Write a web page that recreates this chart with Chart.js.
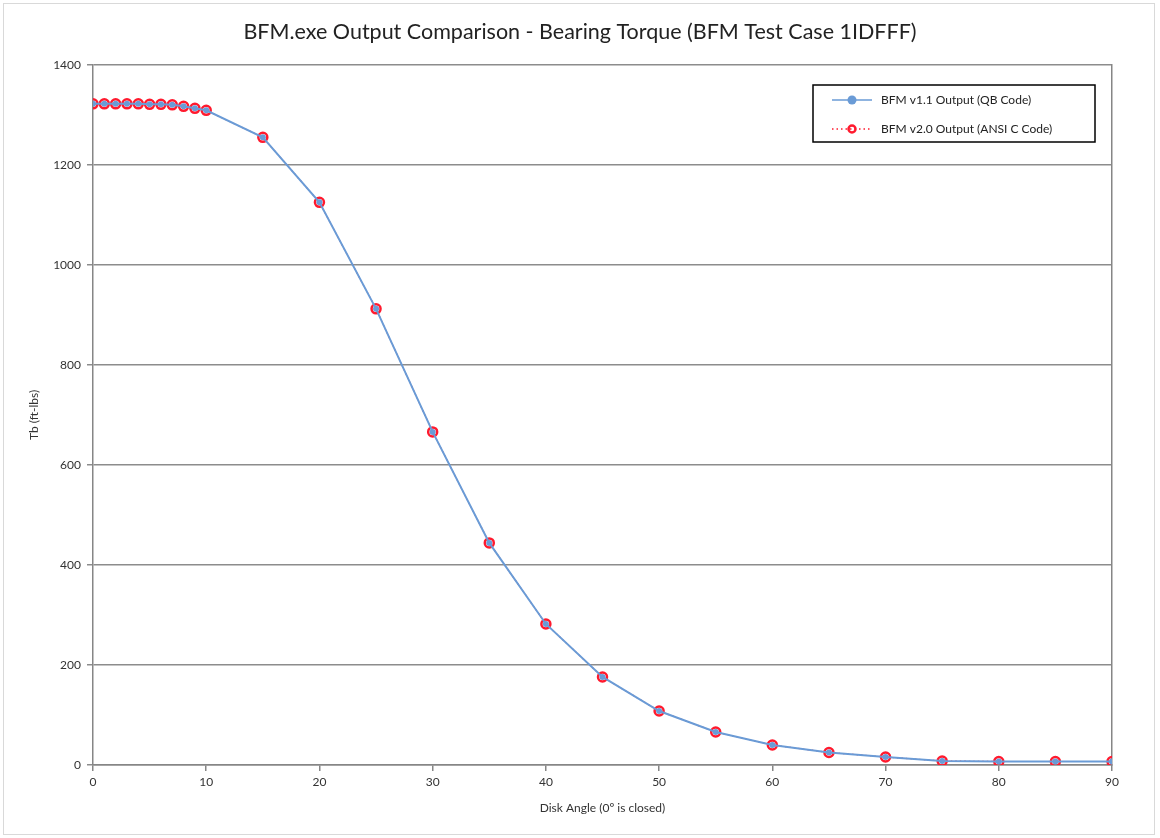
<!DOCTYPE html>
<html lang="en">
<head>
  <meta charset="UTF-8">
  <title>BFM.exe Output Comparison</title>
  <script src="https://cdn.jsdelivr.net/npm/chart.js"></script>
  <style>
    html, body { margin: 0; padding: 0; background: #fff; }
    .frame { position: absolute; left: 3px; top: 3px; width: 1150px; height: 830px; border: 1px solid #d9d9d9; }
    .wrap { position: absolute; left: 0; top: 0; width: 1160px; height: 838px; }
  </style>
</head>
<body>
  <div class="frame"></div>
  <div class="wrap"><canvas id="grafico" width="1160" height="838"></canvas></div>

  <script>
    // disk angle (deg) and bearing torque values
    const angulos = [0, 1, 2, 3, 4, 5, 6, 7, 8, 9, 10, 15, 20, 25, 30, 35, 40, 45, 50, 55, 60, 65, 70, 75, 80, 85, 90];
    const torqueQB = [1322, 1322, 1322, 1322, 1322, 1321, 1321, 1320, 1317, 1313, 1309, 1255, 1125, 912, 666, 444, 282, 176, 108, 66, 40, 25, 16, 8, 7, 7, 7];
    const torqueC  = [1322, 1322, 1322, 1322, 1322, 1321, 1321, 1320, 1317, 1313, 1309, 1255, 1125, 912, 666, 444, 282, 176, 108, 66, 40, 25, 16, 8, 7, 7, 7];
    const yTicks = [0, 200, 400, 600, 800, 1000, 1200, 1400];
    const xTicks = [0, 10, 20, 30, 40, 50, 60, 70, 80, 90];

    const fonte = 'Lato, "Liberation Sans", sans-serif';
    const azul = '#6a9bd6';
    const vermelho = '#ff1a2e';

    // legenda com caixa (como no Excel)
    const legendaPlugin = {
      id: 'legendaCaixa',
      afterDraw(chart) {
        const ctx = chart.ctx;
        ctx.save();
        const bx = 813, by = 85, bw = 282, bh = 57;
        ctx.strokeStyle = '#000';
        ctx.lineWidth = 1.5;
        ctx.strokeRect(bx, by, bw, bh);
        ctx.font = '12px ' + fonte;
        ctx.textBaseline = 'middle';
        const ds = chart.data.datasets;

        // entrada 1
        let y = 100;
        ctx.strokeStyle = azul;
        ctx.lineWidth = 1.5;
        ctx.beginPath(); ctx.moveTo(832, y); ctx.lineTo(872, y); ctx.stroke();
        ctx.fillStyle = azul;
        ctx.beginPath(); ctx.arc(852, y, 4.5, 0, Math.PI * 2); ctx.fill();
        ctx.fillStyle = '#222';
        ctx.fillText(ds[0].label, 881, y);

        // entrada 2
        y = 129;
        ctx.strokeStyle = vermelho;
        ctx.setLineDash([1.5, 3]);
        ctx.beginPath(); ctx.moveTo(832, y); ctx.lineTo(872, y); ctx.stroke();
        ctx.setLineDash([]);
        ctx.lineWidth = 2.5;
        ctx.beginPath(); ctx.arc(852, y, 3.5, 0, Math.PI * 2); ctx.stroke();
        ctx.fillStyle = '#222';
        ctx.fillText(ds[1].label, 881, y);
        ctx.restore();
      }
    };

    const ctx = document.getElementById('grafico').getContext('2d');
    new Chart(ctx, {
      type: 'line',
      data: {
        datasets: [{
          label: 'BFM v1.1 Output (QB Code)',
          data: angulos.map((a, i) => ({ x: a, y: torqueQB[i] })),
          borderColor: azul,
          backgroundColor: azul,
          borderWidth: 2,
          pointRadius: 3,
          pointBorderWidth: 0,
          tension: 0
        }, {
          label: 'BFM v2.0 Output (ANSI C Code)',
          data: angulos.map((a, i) => ({ x: a, y: torqueC[i] })),
          borderColor: vermelho,
          backgroundColor: 'rgba(0,0,0,0)',
          borderWidth: 1.2,
          borderDash: [1.5, 3],
          pointRadius: 4.5,
          pointBorderWidth: 2.5,
          pointBorderColor: vermelho,
          pointBackgroundColor: 'rgba(0,0,0,0)',
          tension: 0
        }]
      },
      options: {
        responsive: false,
        animation: false,
        layout: { padding: 0 },
        plugins: {
          legend: { display: false },
          tooltip: { enabled: false },
          title: {
            display: true,
            text: 'BFM.exe Output Comparison - Bearing Torque (BFM Test Case 1IDFFF)',
            color: '#222',
            font: { family: fonte, size: 21.5, weight: 'normal' },
            padding: { top: 19, bottom: 20 }
          }
        },
        scales: {
          x: {
            type: 'linear',
            min: 0,
            max: 90,
            afterBuildTicks: s => { s.ticks = xTicks.map(v => ({ value: v })); },
            afterFit: s => { s.height = 73; },
            grid: { display: true, drawOnChartArea: false, drawTicks: true, tickLength: 6, color: '#868686', lineWidth: 1.5 },
            border: { color: '#868686', width: 1.5 },
            ticks: { color: '#333', font: { family: fonte, size: 12 }, padding: 4, maxRotation: 0 },
            title: { display: true, text: 'Disk Angle (0º is closed)', color: '#333', font: { family: fonte, size: 12 }, padding: { top: 4, bottom: 23 } }
          },
          y: {
            min: 0,
            max: 1400,
            afterBuildTicks: s => { s.ticks = yTicks.map(v => ({ value: v })); },
            afterFit: s => { s.width = 93; },
            grid: { color: '#8c8c8c', lineWidth: 1.5, tickLength: 6 },
            border: { color: '#868686', width: 1.5 },
            ticks: { color: '#333', font: { family: fonte, size: 12 }, padding: 6, callback: v => String(v) },
            title: { display: true, text: 'Tb (ft-lbs)', color: '#333', font: { family: fonte, size: 12 }, padding: { top: 27, bottom: 8 } }
          },
          // eixo direito vazio: so a borda da area do grafico
          y2: {
            position: 'right',
            min: 0,
            max: 1400,
            afterFit: s => { s.width = 48; },
            grid: { display: false },
            border: { color: '#868686', width: 1.5 },
            ticks: { display: false }
          }
        }
      },
      plugins: [legendaPlugin]
    });
  </script>
</body>
</html>
